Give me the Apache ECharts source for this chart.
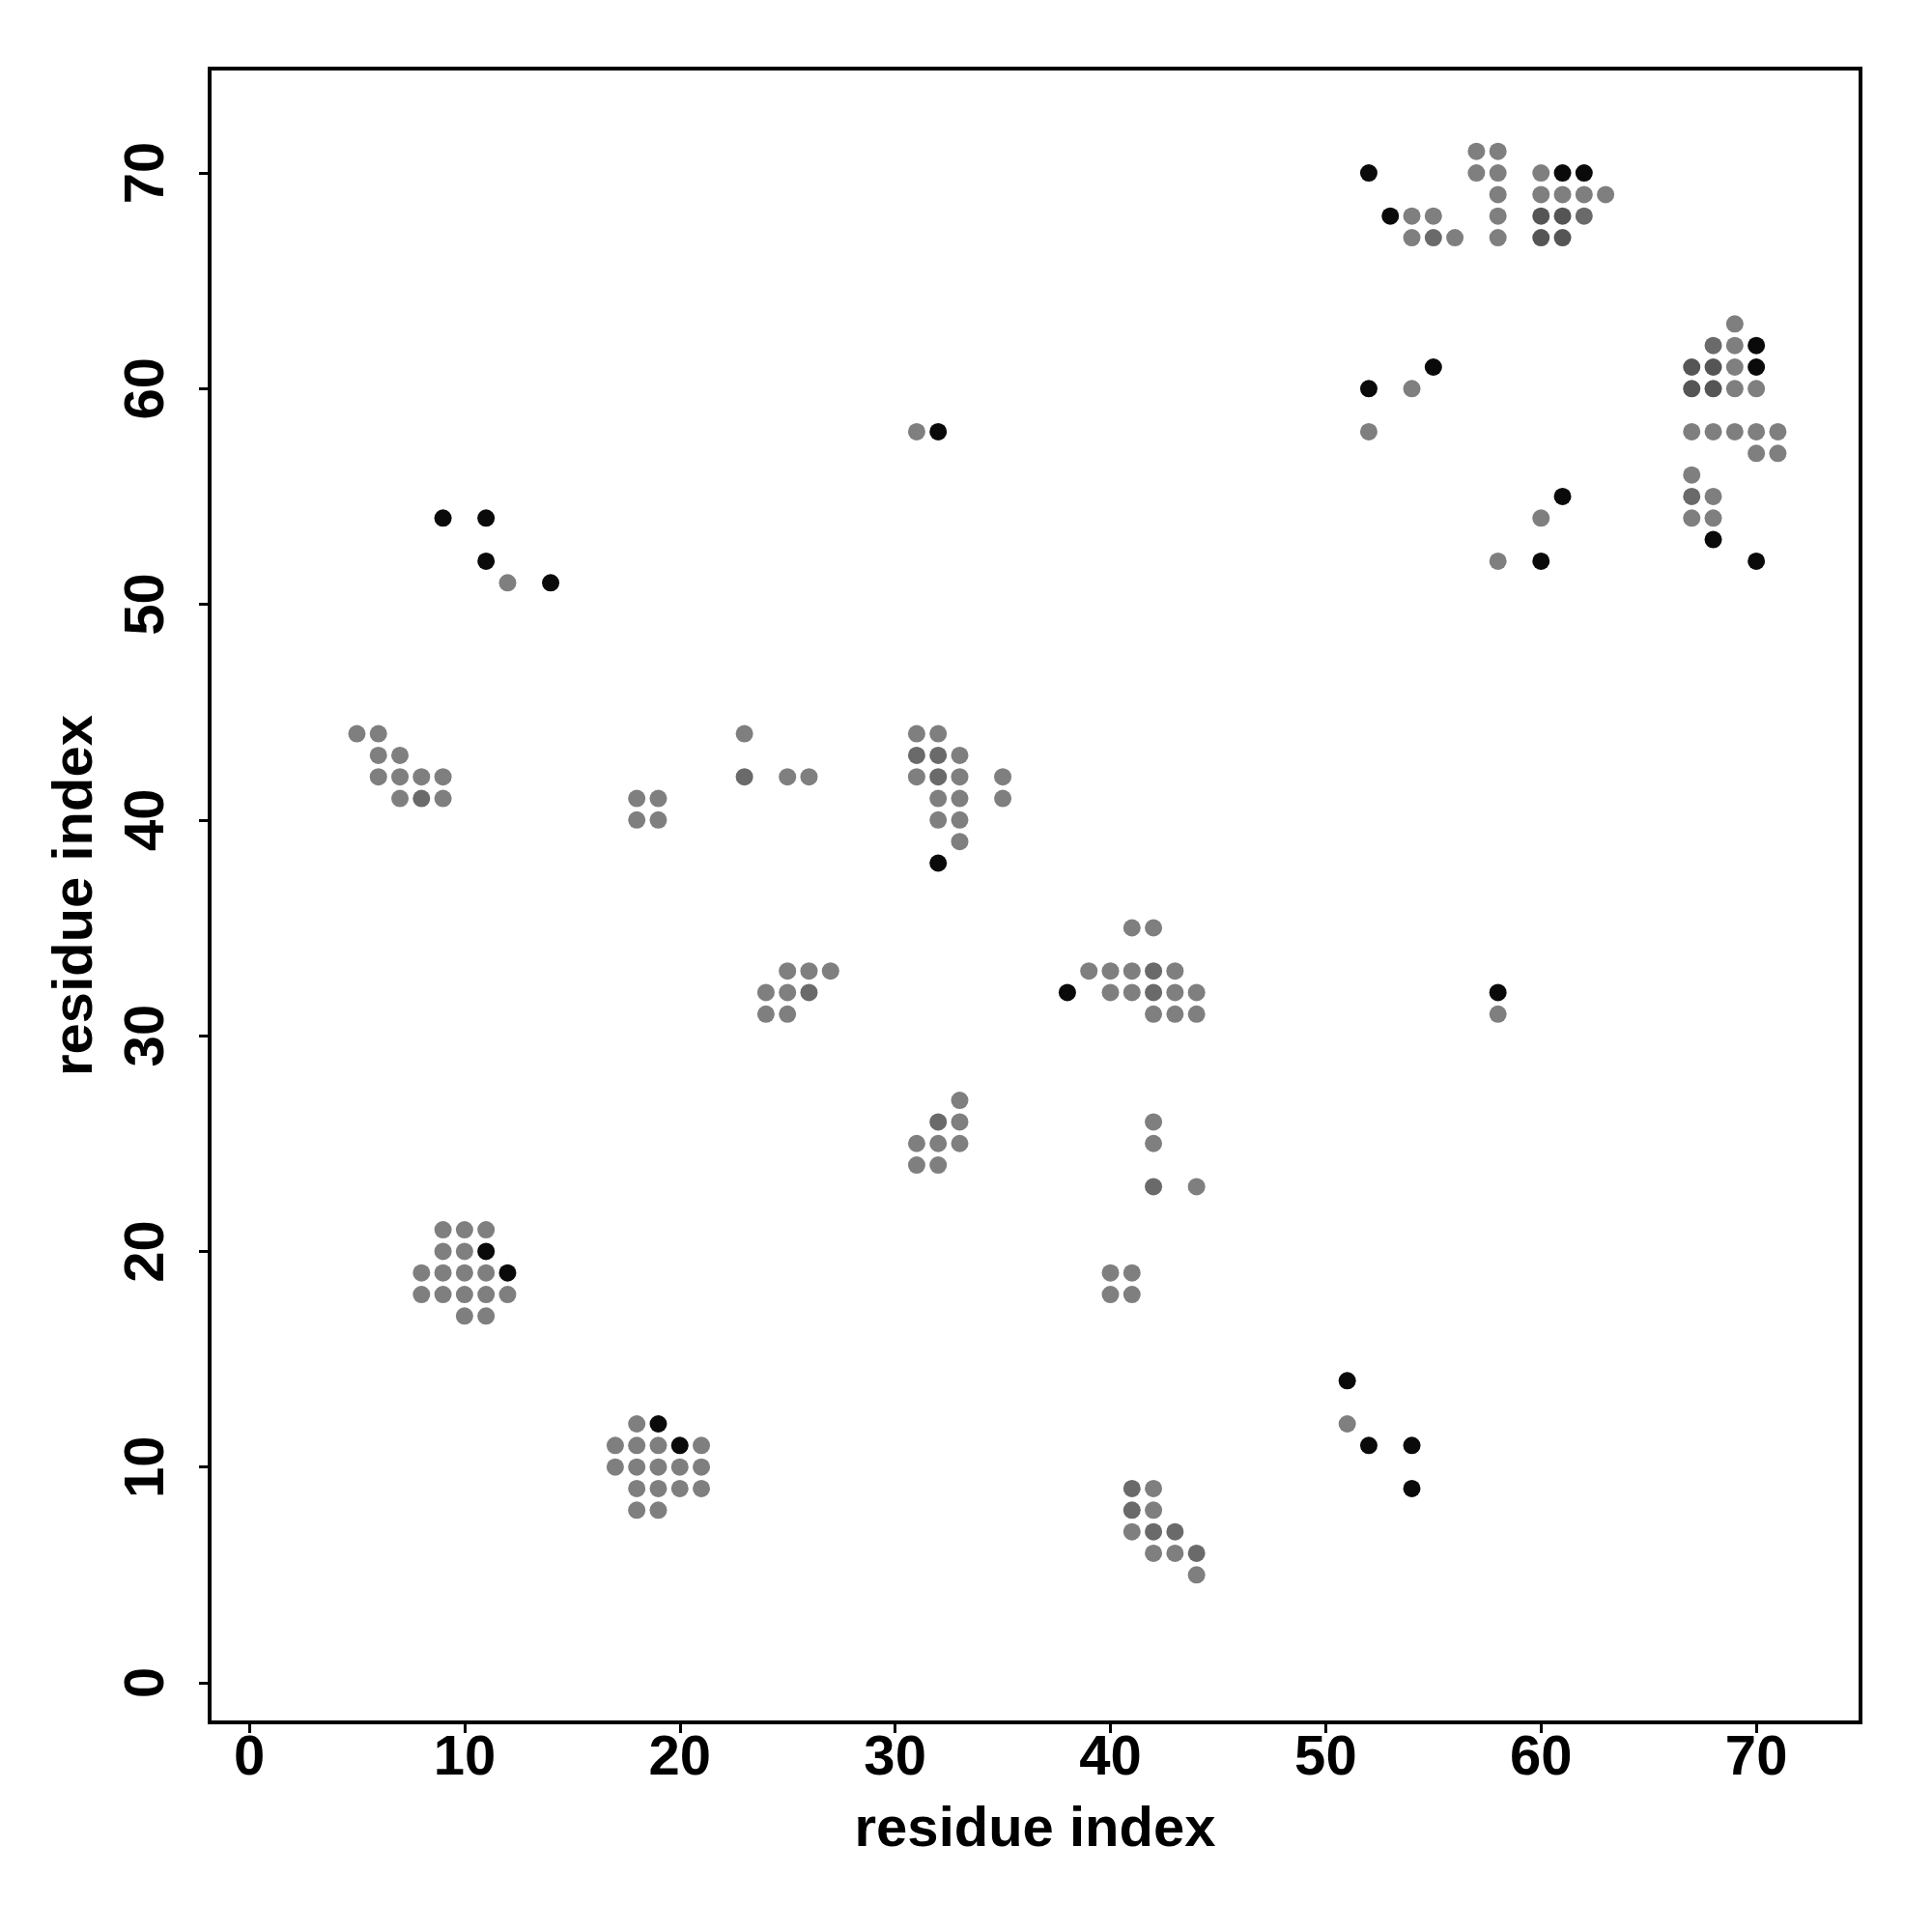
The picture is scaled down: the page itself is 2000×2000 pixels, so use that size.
<!DOCTYPE html>
<html>
<head>
<meta charset="utf-8">
<script src="https://cdn.jsdelivr.net/npm/echarts@6/dist/echarts.min.js"></script>
<style>html,body{margin:0;padding:0;background:#fff}#c{width:2000px;height:2000px}</style>
</head>
<body>
<div id="c"></div>
<script>
// contact map points [x residue, y residue], grouped by shade
const blackPts = [[52,70],[61,70],[62,70],[53,68],[70,62],[70,61],[68,53],[70,52],[55,61],[52,60],[61,55],[60,52],
  [9,54],[11,54],[11,52],[14,51],[32,38],[38,32],[11,20],[12,19],[19,12],[20,11],[51,14],[52,11],[54,11],[54,9],[32,58],[58,32]];
const darkPts = [[60,68],[61,68],[60,67],[61,67],[67,61],[68,61],[67,60],[68,60]];
const midPts = [[62,68],[55,67],[68,62],[67,55],[8,41],[31,43],[32,43],[23,42],[32,42],[42,33],[26,32],[42,32],[32,26],
  [42,23],[41,9],[41,8],[42,7],[43,7],[44,6]];
const grayPts = [[54,68],[55,68],[54,67],[56,67],[57,71],[58,71],[57,70],[58,70],[58,69],[58,68],[58,67],[60,70],[60,69],[61,69],[62,69],[63,69],
  [69,63],[69,62],[69,61],[69,60],[70,60],[67,58],[68,58],[69,58],[70,58],[71,58],[70,57],[71,57],[67,56],[68,55],[67,54],[68,54],
  [54,60],[52,58],[60,54],[58,52],[12,51],
  [5,44],[6,44],[6,43],[7,43],[6,42],[7,42],[8,42],[9,42],[7,41],[9,41],[18,41],[19,41],[18,40],[19,40],
  [23,44],[31,44],[32,44],[33,43],[25,42],[26,42],[31,42],[33,42],[35,42],[32,41],[33,41],[35,41],[32,40],[33,40],[33,39],
  [41,35],[42,35],[25,33],[26,33],[27,33],[39,33],[40,33],[41,33],[43,33],[24,32],[25,32],[40,32],[41,32],[43,32],[44,32],[24,31],[25,31],[42,31],[43,31],[44,31],
  [33,27],[33,26],[42,26],[31,25],[32,25],[33,25],[42,25],[31,24],[32,24],[44,23],
  [9,21],[10,21],[11,21],[9,20],[10,20],[8,19],[9,19],[10,19],[11,19],[8,18],[9,18],[10,18],[11,18],[12,18],[10,17],[11,17],
  [18,12],[17,11],[18,11],[19,11],[21,11],[17,10],[18,10],[19,10],[20,10],[21,10],[18,9],[19,9],[20,9],[21,9],[18,8],[19,8],
  [40,19],[41,19],[40,18],[41,18],[42,9],[42,8],[41,7],[42,6],[43,6],[44,5],
  [31,58],[58,31],[51,12]];
const tickValues = [0,10,20,30,40,50,60,70];
const xTitle = 'residue index';
const yTitle = 'residue index';

const font = '"Liberation Sans", Arial, Helvetica, sans-serif';
const chart = echarts.init(document.getElementById('c'), null, {renderer:'canvas'});
function ser(data, color){
  return {type:'scatter', data:data, symbol:'circle', symbolSize:18, itemStyle:{color:color, opacity:1}, silent:true};
}
const axisCommon = {
  min:-1.84, max:74.84,
  splitLine:{show:false},
  axisLine:{show:false, onZero:false},
  axisTick:{show:true, inside:false, length:11, customValues:tickValues, lineStyle:{color:'#000', width:3}},
  nameLocation:'middle',
  nameTextStyle:{fontFamily:font, fontWeight:'bold', fontSize:58, color:'#000'}
};
chart.setOption({
  animation:false,
  backgroundColor:'#fff',
  grid:{left:217, top:71, width:1709, height:1712, show:true, borderColor:'#000', borderWidth:4, backgroundColor:'transparent'},
  xAxis:Object.assign({}, axisCommon, {type:'value', name:xTitle, nameGap:83,
    axisLabel:{customValues:tickValues, margin:9, fontFamily:font, fontWeight:'bold', fontSize:58, color:'#000'}}),
  yAxis:Object.assign({}, axisCommon, {type:'value', name:yTitle, nameGap:109,
    axisLabel:{customValues:tickValues, rotate:90, margin:35, fontFamily:font, fontWeight:'bold', fontSize:58, color:'#000'}}),
  series:[ser(grayPts,'#7f7f7f'), ser(midPts,'#6a6a6a'), ser(darkPts,'#555555'), ser(blackPts,'#0a0a0a')]
});
</script>
</body>
</html>
